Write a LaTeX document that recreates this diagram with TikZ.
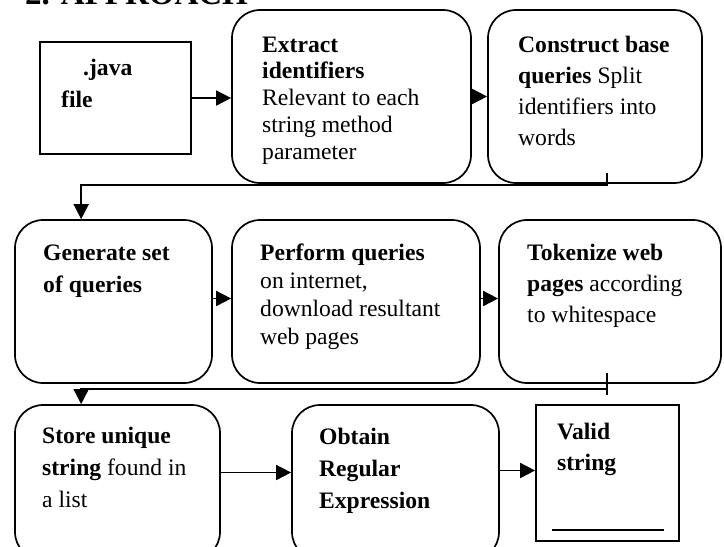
\documentclass[tikz,border=0pt]{standalone}
\usepackage{fontspec}
\setmainfont{Liberation Serif}
\usetikzlibrary{arrows.meta,calc}
\tikzset{
  rbox/.style={draw, line width=1.7pt, rounded corners=28pt, inner sep=0pt},
  sqbox/.style={draw, line width=1.7pt, inner sep=0pt},
  txt/.style={anchor=base west, inner sep=0pt},
  conn/.style={line width=1.7pt},
  arr/.style={conn, -{Triangle[length=15pt,width=15pt]}},
}
\newcommand\fs[1]{\fontsize{23.6}{#1}\selectfont}
\newcommand\ml[1]{\vtop{\halign{##\hfil\cr#1\crcr}}}
\begin{document}
\begin{tikzpicture}[x=1pt,y=-1pt]
\useasboundingbox (0,0) rectangle (724,547);
\clip (0,0) rectangle (724,547);
% heading (cut off at top)
\node[anchor=base west, inner sep=0pt, font=\fontsize{33}{33}\selectfont\bfseries] (head) at (25,4) {2. APPROACH};
% boxes
\node[sqbox, minimum width=151pt, minimum height=112pt] (java) at (115.5,98) {};
\node[rbox, minimum width=239pt, minimum height=173pt] (extract) at (351.5,96.5) {};
\node[rbox, minimum width=214pt, minimum height=173pt] (construct) at (595,96.5) {};
\node[rbox, minimum width=197pt, minimum height=163pt] (generate) at (113.5,301.5) {};
\node[rbox, minimum width=248pt, minimum height=163pt] (perform) at (356,301.5) {};
\node[rbox, minimum width=222pt, minimum height=163pt] (tokenize) at (610,301.5) {};
\node[rbox, minimum width=205pt, minimum height=155pt] (store) at (117.5,482.5) {};
\node[rbox, minimum width=207pt, minimum height=155pt] (obtain) at (395.5,482.5) {};
\node[sqbox, minimum width=143pt, minimum height=136pt] (valid) at (607.5,473) {};
% texts
\node[txt, font=\fs{32}] (jt1) at (83,75) {\textbf{.java}};
\node[txt, font=\fs{32}] (jt2) at (61,107) {\textbf{file}};
\node[txt, font=\fs{26.8}] (et) at (262,52) {\ml{\textbf{Extract}\cr\textbf{identifiers}\cr Relevant to each\cr string method\cr parameter}};
\node[txt, font=\fs{31}] (ct) at (518,52) {\ml{\textbf{Construct base}\cr\textbf{queries} Split\cr identifiers into\cr words}};
\node[txt, font=\fs{32}] (gt) at (43,260) {\ml{\textbf{Generate set}\cr\textbf{of queries}}};
\node[txt, font=\fs{28.3}] (pt) at (260,260) {\ml{\textbf{Perform queries}\cr on internet,\cr download resultant\cr web pages}};
\node[txt, font=\fs{31}] (tt) at (527,260) {\ml{\textbf{Tokenize web}\cr\textbf{pages} according\cr to whitespace}};
\node[txt, font=\fs{32}] (st) at (42,443) {\ml{\textbf{Store unique}\cr\textbf{string} found in\cr a list}};
\node[txt, font=\fs{32}] (ot) at (319,444) {\ml{\textbf{Obtain}\cr\textbf{Regular}\cr\textbf{Expression}}};
\node[txt, font=\fs{31}] (vt) at (557,439) {\ml{\textbf{Valid}\cr\textbf{string}}};
% underline inside Valid string box
\draw[conn] ([shift={(17,-12)}]valid.south west) -- ([shift={(-16,-12)}]valid.south east);
% connectors
\draw[arr] (java.east) -- (java.east -| extract.west);
\draw[arr] (extract.east) -- (construct.west);
\draw[arr] ([shift={(12,-11)}]construct.south) -- ([shift={(12,1)}]construct.south) -| ([xshift=67pt]generate.north west);
\draw[arr] ([yshift=3pt]generate.east) -- ([yshift=3pt]perform.west);
\draw[arr] ([yshift=3pt]perform.east) -- ([yshift=3pt]tokenize.west);
\draw[conn] ([shift={(-3,-11)}]tokenize.south) -- ([shift={(-3,11)}]tokenize.south);
\draw[arr] ([shift={(-3,5)}]tokenize.south) -| ([xshift=67pt]store.north west);
\draw[arr] ([yshift=10pt]store.east) -- ([yshift=10pt]store.east -| obtain.west);
\draw[arr] ([yshift=12pt]obtain.east) -- ([yshift=12pt]obtain.east -| valid.west);
\end{tikzpicture}
\end{document}
